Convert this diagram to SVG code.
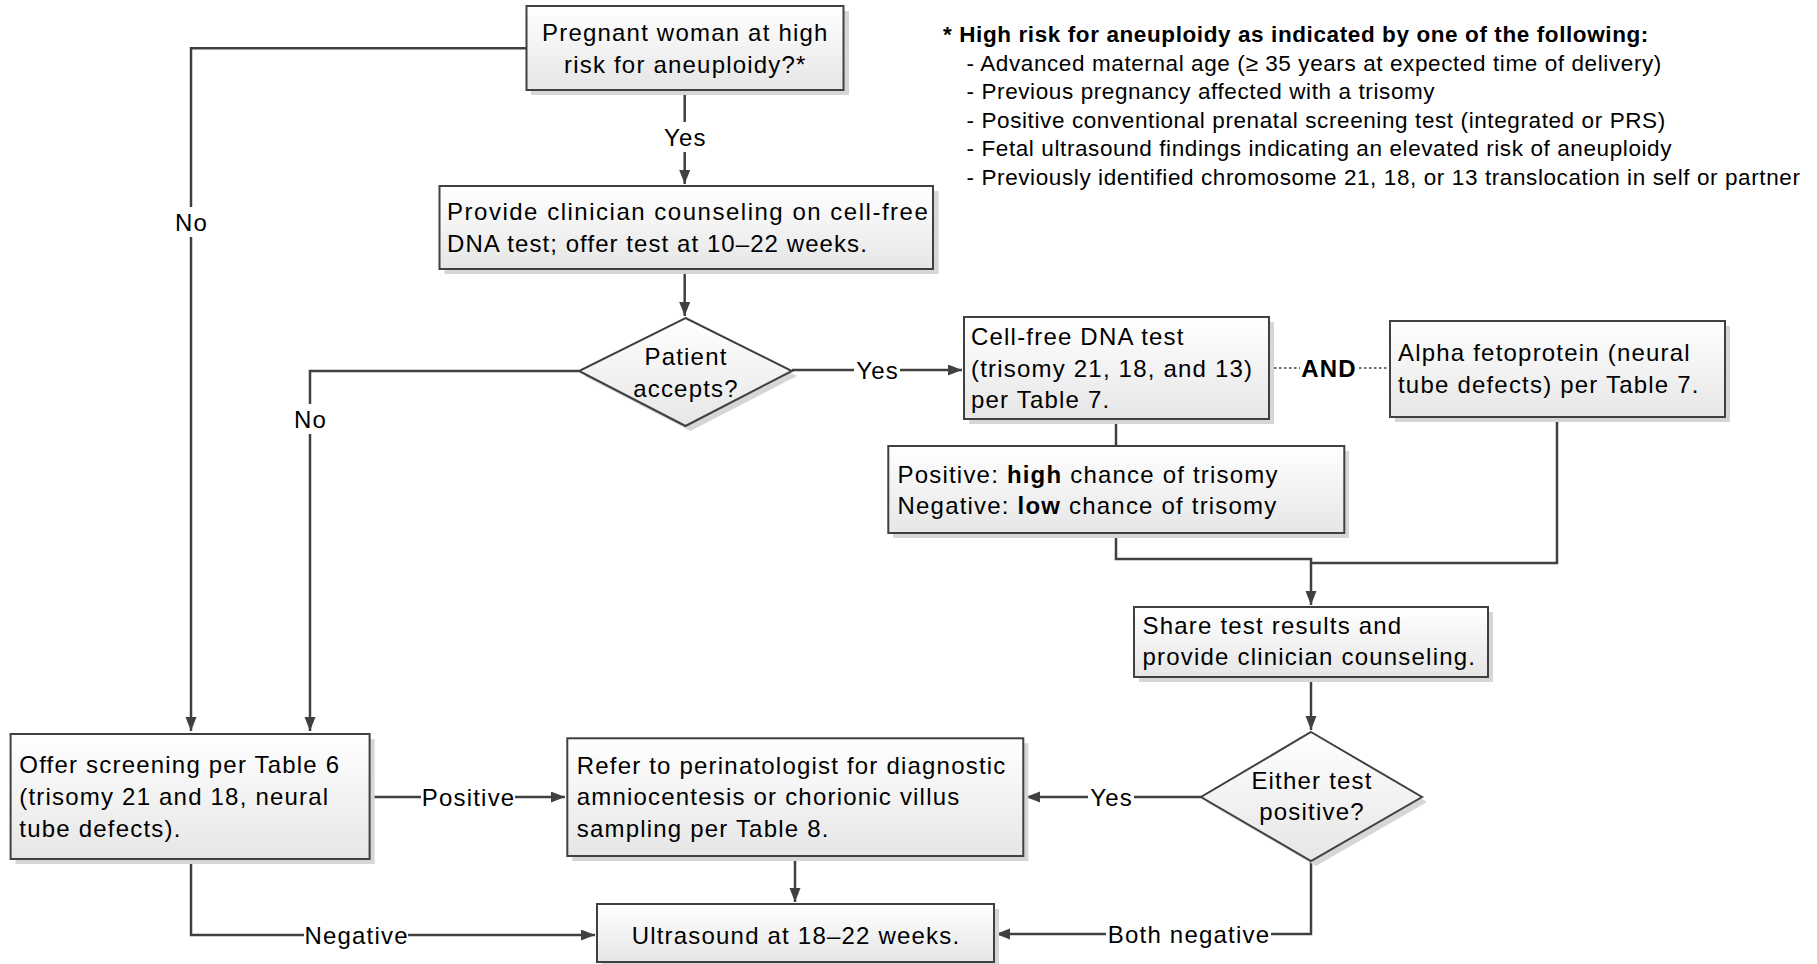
<svg xmlns="http://www.w3.org/2000/svg" width="1817" height="964" viewBox="0 0 1817 964">
<style>
.box{fill:url(#g);stroke:#404040;stroke-width:2}
.sh{fill:#d6d6d6}
.t{font-family:"Liberation Sans",Arial,sans-serif;font-size:24px;letter-spacing:1.2px;fill:#000}
.c{text-anchor:middle}
.b{font-weight:bold}
.fn{font-family:"Liberation Sans",Arial,sans-serif;font-size:22.5px;letter-spacing:0.6px;fill:#000}
.ln{fill:none;stroke:#404040;stroke-width:2.5}
.dot{fill:none;stroke:#404040;stroke-width:1.6;stroke-dasharray:2.5,2.5}
.lb{fill:#fff}
</style>
<defs>
<linearGradient id="g" x1="0" y1="0" x2="0" y2="1">
<stop offset="0" stop-color="#ffffff"/>
<stop offset="1" stop-color="#e6e6e6"/>
</linearGradient>
<marker id="ar" markerUnits="userSpaceOnUse" markerWidth="15" markerHeight="12" refX="14" refY="5.5" orient="auto">
<path d="M0,0 L14,5.5 L0,11 z" fill="#404040"/>
</marker>
</defs>
<rect width="1817" height="964" fill="#fff"/>

<g id="footnote">
<text class="fn b" x="943" y="41.5">* High risk for aneuploidy as indicated by one of the following:</text>
<text class="fn" x="966.5" y="70.5">- Advanced maternal age (≥ 35 years at expected time of delivery)</text>
<text class="fn" x="966.5" y="99">- Previous pregnancy affected with a trisomy</text>
<text class="fn" x="966.5" y="127.5">- Positive conventional prenatal screening test (integrated or PRS)</text>
<text class="fn" x="966.5" y="156">- Fetal ultrasound findings indicating an elevated risk of aneuploidy</text>
<text class="fn" x="966.5" y="184.5">- Previously identified chromosome 21, 18, or 13 translocation in self or partner</text>
</g>

<g id="connectors">
<path class="ln" d="M526,48.3 H191 V731" marker-end="url(#ar)"/>
<path class="ln" d="M684.7,90 V184" marker-end="url(#ar)"/>
<path class="ln" d="M684.7,269 V316" marker-end="url(#ar)"/>
<path class="ln" d="M579,371 H310 V731" marker-end="url(#ar)"/>
<path class="ln" d="M792,370 H962" marker-end="url(#ar)"/>
<path class="ln" d="M1116,419 V446"/>
<path class="dot" d="M1269,368 H1390"/>
<path class="ln" d="M1116,533 V559 H1311 V605" marker-end="url(#ar)"/>
<path class="ln" d="M1557,417 V563 H1311"/>
<path class="ln" d="M1311,677 V730" marker-end="url(#ar)"/>
<path class="ln" d="M1201,797 H1026" marker-end="url(#ar)"/>
<path class="ln" d="M1311,861 V934 H996" marker-end="url(#ar)"/>
<path class="ln" d="M370,797 H565" marker-end="url(#ar)"/>
<path class="ln" d="M191,860 V935 H595" marker-end="url(#ar)"/>
<path class="ln" d="M795,856 V902" marker-end="url(#ar)"/>

<rect class="lb" x="174" y="207" width="34" height="30"/>
<text class="t c" x="191.6" y="230.6">No</text>
<rect class="lb" x="662" y="122" width="46" height="30"/>
<text class="t c" x="685.3" y="145.6">Yes</text>
<rect class="lb" x="293" y="404" width="34" height="30"/>
<text class="t c" x="310.6" y="427.6">No</text>
<rect class="lb" x="854" y="355" width="46" height="30"/>
<text class="t c" x="877.6" y="378.6">Yes</text>
<rect class="lb" x="1300" y="353" width="57" height="30"/>
<text class="t c b" x="1329" y="376.6">AND</text>
<rect class="lb" x="421" y="782" width="94" height="30"/>
<text class="t c" x="468.6" y="805.6">Positive</text>
<rect class="lb" x="1088" y="782" width="46" height="30"/>
<text class="t c" x="1111.6" y="805.6">Yes</text>
<rect class="lb" x="304" y="920" width="104" height="30"/>
<text class="t c" x="356.6" y="943.6">Negative</text>
<rect class="lb" x="1106" y="919" width="165" height="30"/>
<text class="t c" x="1189" y="942.6">Both negative</text>
</g>

<g id="n-highrisk">
<rect class="sh" x="531" y="11" width="318" height="84"/>
<rect class="box" x="526.5" y="6" width="317" height="84"/>
<text class="t c" x="685.3" y="40.5">Pregnant woman at high</text>
<text class="t c" x="685.3" y="72.5">risk for aneuploidy?*</text>
</g>

<g id="n-counsel">
<rect class="sh" x="444.5" y="191" width="494" height="83"/>
<rect class="box" x="439.5" y="186" width="493.5" height="83"/>
<text class="t" x="447" y="220" textLength="482" lengthAdjust="spacing">Provide clinician counseling on cell-free</text>
<text class="t" x="447" y="251.7" textLength="421" lengthAdjust="spacing">DNA test; offer test at 10–22 weeks.</text>
</g>

<g id="n-accepts">
<polygon class="sh" points="690.5,323 797,376 690.5,431 584,376"/>
<polygon class="box" points="685.5,318 792,371 685.5,426 579,371"/>
<text class="t c" x="686" y="365.3">Patient</text>
<text class="t c" x="686" y="397">accepts?</text>
</g>

<g id="n-cfdna">
<rect class="sh" x="969" y="322" width="305" height="102"/>
<rect class="box" x="964" y="317" width="305" height="102"/>
<text class="t" x="971" y="345">Cell-free DNA test</text>
<text class="t" x="971" y="376.5">(trisomy 21, 18, and 13)</text>
<text class="t" x="971" y="408">per Table 7.</text>
</g>

<g id="n-afp">
<rect class="sh" x="1395" y="326" width="335" height="96"/>
<rect class="box" x="1390" y="321" width="335" height="96"/>
<text class="t" x="1398" y="361">Alpha fetoprotein (neural</text>
<text class="t" x="1398" y="393">tube defects) per Table 7.</text>
</g>

<g id="n-result">
<rect class="sh" x="893" y="451" width="456" height="87"/>
<rect class="box" x="888.3" y="446" width="456" height="87"/>
<text class="t" x="897.5" y="482.5"><tspan>Positive: </tspan><tspan class="b">high</tspan><tspan> chance of trisomy</tspan></text>
<text class="t" x="897.5" y="513.5"><tspan>Negative: </tspan><tspan class="b">low</tspan><tspan> chance of trisomy</tspan></text>
</g>

<g id="n-share">
<rect class="sh" x="1139" y="612" width="354" height="70"/>
<rect class="box" x="1134" y="607" width="354" height="70"/>
<text class="t" x="1142.5" y="633.5">Share test results and</text>
<text class="t" x="1142.5" y="665">provide clinician counseling.</text>
</g>

<g id="n-either">
<polygon class="sh" points="1316,737 1427,802 1316,866 1206,802"/>
<polygon class="box" points="1311,732 1422,797 1311,861 1201,797"/>
<text class="t c" x="1312" y="788.6">Either test</text>
<text class="t c" x="1312" y="820.3">positive?</text>
</g>

<g id="n-offer">
<rect class="sh" x="15.6" y="739" width="359" height="125"/>
<rect class="box" x="10.6" y="734" width="359" height="125"/>
<text class="t" x="19.3" y="773.3">Offer screening per Table 6</text>
<text class="t" x="19.3" y="805">(trisomy 21 and 18, neural</text>
<text class="t" x="19.3" y="836.7">tube defects).</text>
</g>

<g id="n-refer">
<rect class="sh" x="572.3" y="743.3" width="456" height="117.7"/>
<rect class="box" x="567.3" y="738.3" width="456" height="117.7"/>
<text class="t" x="576.7" y="773.5">Refer to perinatologist for diagnostic</text>
<text class="t" x="576.7" y="805">amniocentesis or chorionic villus</text>
<text class="t" x="576.7" y="836.5">sampling per Table 8.</text>
</g>

<g id="n-ultrasound">
<rect class="sh" x="602" y="909" width="397" height="58"/>
<rect class="box" x="597" y="904" width="397" height="58"/>
<text class="t c" x="796" y="943.6">Ultrasound at 18–22 weeks.</text>
</g>
</svg>
